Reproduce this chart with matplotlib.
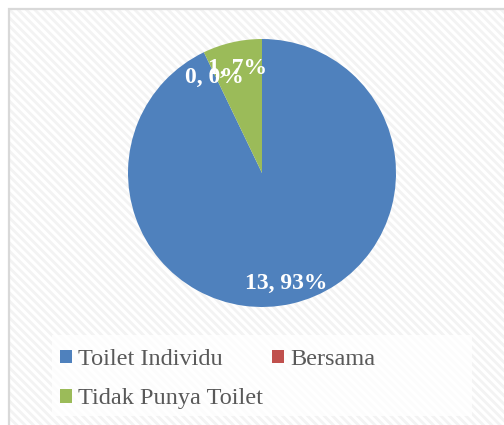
import matplotlib
matplotlib.use("Agg")
import matplotlib.pyplot as plt
from matplotlib.patches import Rectangle, Patch

categories = ["Toilet Individu", "Bersama", "Tidak Punya Toilet"]
values = [13, 0, 1]
colors = ["#4F81BD", "#C0504D", "#9BBB59"]

plt.rcParams['font.family'] = ['Liberation Serif', 'DejaVu Serif']
plt.rcParams['hatch.linewidth'] = 2.0

W, H = 504, 425
fig = plt.figure(figsize=(W / 100, H / 100), dpi=100)
fig.patch.set_facecolor("white")

# chart area background with diagonal stripes
bg = Rectangle((9 / W, 0), 1 - 9 / W, 1 - 9 / H, transform=fig.transFigure,
               facecolor="white", edgecolor="#f3f3f3", hatch="\\\\\\\\", lw=0, zorder=0)
fig.patches.append(bg)
border = Rectangle((9 / W, -0.01), 1.02 - 9 / W, 1.01 - 9 / H, transform=fig.transFigure,
                   facecolor="none", edgecolor="#d9d9d9", lw=1.6, zorder=1)
fig.patches.append(border)

# pie
R = 134
cx, cy = 262, H - 173
ax = fig.add_axes([(cx - R) / W, (cy - R) / H, 2 * R / W, 2 * R / H])
ax.set_zorder(5)
ax.set_facecolor("none")
it = iter(values)


def fmt(p):
    v = next(it)
    return f"{v}, {p:.0f}%"


wedges, texts, autotexts = ax.pie(values, colors=colors, startangle=90, counterclock=False,
                                  autopct=fmt, pctdistance=0.82, radius=1,
                                  wedgeprops=dict(linewidth=0),
                                  textprops=dict(color="white", fontsize=17, fontweight="bold"))
for t in autotexts:
    x, y = t.get_position()
    t.set_position((x, y - 3 / R))
ax.set_xlim(-1, 1)
ax.set_ylim(-1, 1)
ax.set_aspect("auto")

# legend box
lx0, lx1, ly0, ly1 = 52, 472, 335, 416
lbox = Rectangle((lx0 / W, 1 - ly1 / H), (lx1 - lx0) / W, (ly1 - ly0) / H,
                 transform=fig.transFigure, facecolor="white", alpha=0.8,
                 edgecolor="none", zorder=2)
fig.patches.append(lbox)

handles = [Patch(facecolor=c, edgecolor="none") for c in colors]
order = [0, 2, 1]
leg = fig.legend([handles[i] for i in order], [categories[i] for i in order],
                 ncol=2, loc="upper left", bbox_to_anchor=(48 / W, 1 - 337 / H),
                 frameon=False, fontsize=17.5, labelcolor="#595959",
                 handlelength=0.5, handleheight=0.5, handletextpad=0.25,
                 columnspacing=0.35, labelspacing=0.75, borderpad=0.0)
leg.set_zorder(6)

fig.savefig("out.png", dpi=100)
